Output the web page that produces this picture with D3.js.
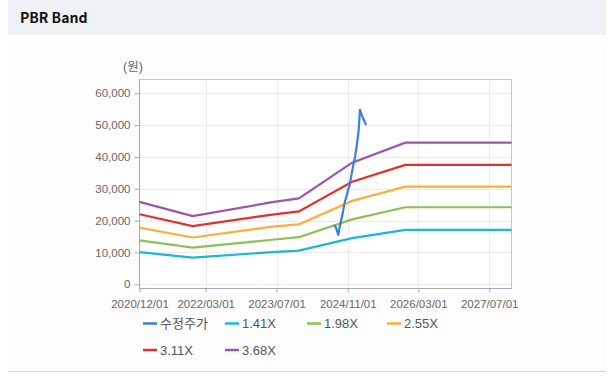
<!DOCTYPE html>
<html>
<head>
<meta charset="utf-8">
<script src="https://cdn.jsdelivr.net/npm/d3@7"></script>
<style>
  body { margin: 0; background: #fff; }
  svg { display: block; font-family: "Liberation Sans", "Noto Sans CJK KR", sans-serif; }
  .tick-label { font-size: 11.5px; fill: #666; }
  .legend-label { font-size: 13px; fill: #555; }
</style>
</head>
<body>
<div id="chart"></div>
<script>
const width = 608;
const height = 378;

// band dates (PBR x BPS), values in 원
const bandDates = ["2020-12-01", "2021-12-01", "2023-06-01", "2023-12-01", "2024-12-01", "2025-12-01", "2027-12-01"];
const band141 = [10100, 8400, 10100, 10600, 14500, 17100, 17100];
const band198 = [13800, 11500, 14000, 14800, 20400, 24200, 24200];
const band255 = [17800, 14700, 18100, 18800, 26200, 30700, 30700];
const band311 = [22000, 18300, 21900, 22900, 32200, 37500, 37500];
const band368 = [25900, 21400, 25800, 27000, 38200, 44500, 44500];

// adjusted price (수정주가)
const priceDates = ["2024-08-01", "2024-08-12", "2024-08-22", "2024-08-28", "2024-09-06", "2024-09-14", "2024-09-28",
  "2024-10-12", "2024-10-22", "2024-11-02", "2024-11-13", "2024-11-23", "2024-12-07", "2024-12-21",
  "2025-01-03", "2025-01-14", "2025-01-24", "2025-02-07", "2025-02-21", "2025-03-07"];
const priceValues = [18600, 17800, 16400, 15500, 17900, 19500, 22500,
  26000, 27400, 29500, 31000, 33500, 37000, 40000,
  44000, 48000, 54800, 53000, 51500, 50000];

const seriesNames = ["수정주가", "1.41X", "1.98X", "2.55X", "3.11X", "3.68X"];
const seriesColors = ["#3a7ee0", "#1ab8d2", "#8cc152", "#fbae3c", "#e3302b", "#9b55b0"];

const yTicks = [0, 10000, 20000, 30000, 40000, 50000, 60000];
const xTicks = ["2020-12-01", "2022-03-01", "2023-07-01", "2024-11-01", "2026-03-01", "2027-07-01"];

const parse = d3.utcParse("%Y-%m-%d");
const fmtDate = d3.utcFormat("%Y/%m/%d");

const plot = { left: 139.5, right: 511.5, top: 79.5, bottom: 288.5 };

const svg = d3.select("#chart")
    .append("svg")
    .attr("width", width)
    .attr("height", height);

// header band
svg.append("rect")
    .attr("x", 8).attr("y", 0)
    .attr("width", 598).attr("height", 35)
    .attr("fill", "#eef2f7");
svg.append("rect")
    .attr("x", 8).attr("y", 35)
    .attr("width", 598).attr("height", 336)
    .attr("fill", "#fdfdfd");
svg.append("line")
    .attr("x1", 8).attr("x2", 606)
    .attr("y1", 371.5).attr("y2", 371.5)
    .attr("stroke", "#d4d4d4");

svg.append("text")
    .attr("x", 20)
    .attr("y", 23)
    .style("font-family", "'Noto Sans CJK KR', sans-serif")
    .style("font-size", "14px")
    .style("font-weight", "bold")
    .attr("fill", "#111")
    .text("PBR Band");

const xScale = d3.scaleUtc()
    .domain([parse("2020-12-01"), parse("2027-12-01")])
    .range([plot.left, plot.right]);

const yScale = d3.scaleLinear()
    .domain([0, 60000])
    .range([284.3, 93.3]);

// plot background + grid
svg.append("rect")
    .attr("x", plot.left).attr("y", plot.top)
    .attr("width", plot.right - plot.left)
    .attr("height", plot.bottom - plot.top)
    .attr("fill", "#fff");

svg.append("g")
    .selectAll("line")
    .data(yTicks)
    .join("line")
    .attr("x1", plot.left).attr("x2", plot.right)
    .attr("y1", d => Math.round(yScale(d)) + 0.5)
    .attr("y2", d => Math.round(yScale(d)) + 0.5)
    .attr("stroke", "#ebebeb");

svg.append("g")
    .selectAll("line")
    .data(xTicks.slice(1))
    .join("line")
    .attr("x1", d => Math.round(xScale(parse(d))) + 0.5)
    .attr("x2", d => Math.round(xScale(parse(d))) + 0.5)
    .attr("y1", plot.top).attr("y2", plot.bottom)
    .attr("stroke", "#ebebeb");

// frame
svg.append("rect")
    .attr("x", plot.left).attr("y", plot.top)
    .attr("width", plot.right - plot.left)
    .attr("height", plot.bottom - plot.top)
    .attr("fill", "none")
    .attr("stroke", "#c8c8c8");

// y axis
const yAxis = svg.append("g")
    .attr("transform", `translate(${plot.left},0)`)
    .call(d3.axisLeft(yScale)
        .tickValues(yTicks)
        .tickSize(5)
        .tickPadding(4)
        .tickFormat(d3.format(",")));
yAxis.select(".domain").attr("stroke", "#aaa").attr("d", `M0,${plot.top}V${plot.bottom}`);
yAxis.selectAll(".tick line").attr("stroke", "#aaa");
yAxis.selectAll(".tick text").attr("class", "tick-label").attr("font-size", null).attr("font-family", null).attr("fill", null);

// x axis
const xAxis = svg.append("g")
    .attr("transform", `translate(0,${plot.bottom})`)
    .call(d3.axisBottom(xScale)
        .tickValues(xTicks.map(parse))
        .tickSize(4)
        .tickPadding(7)
        .tickFormat(fmtDate));
xAxis.select(".domain").attr("stroke", "#aaa").attr("d", `M${plot.left},0H${plot.right}`);
xAxis.selectAll(".tick line").attr("stroke", "#aaa");
xAxis.selectAll(".tick text").attr("class", "tick-label").attr("font-size", null).attr("font-family", null).attr("fill", null);
yAxis.attr("font-size", null).attr("font-family", null);
xAxis.attr("font-size", null).attr("font-family", null);

svg.append("text")
    .attr("x", 133)
    .attr("y", 71)
    .attr("text-anchor", "middle")
    .style("font-size", "12.5px")
    .attr("fill", "#666")
    .text("(원)");

// lines
const line = d3.line()
    .x(d => xScale(d.date))
    .y(d => yScale(d.value));

const bands = [band141, band198, band255, band311, band368];

bands.forEach((vals, i) => {
    const pts = bandDates.map((d, j) => ({ date: parse(d), value: vals[j] }));
    svg.append("path")
        .datum(pts)
        .attr("fill", "none")
        .attr("stroke", seriesColors[i + 1])
        .attr("stroke-width", 2.2)
        .attr("d", line);
});

const pricePts = priceDates.map((d, j) => ({ date: parse(d), value: priceValues[j] }));
svg.append("path")
    .datum(pricePts)
    .attr("fill", "none")
    .attr("stroke", seriesColors[0])
    .attr("stroke-width", 2.2)
    .attr("stroke-linejoin", "round")
    .attr("d", line);

// legend
const legendX = [143, 225, 307, 387];
const legend = svg.append("g");
seriesNames.forEach((name, i) => {
    const col = i < 4 ? i : i - 4;
    const row = i < 4 ? 0 : 1;
    const x = legendX[col];
    const y = 323.5 + row * 26.5;
    legend.append("line")
        .attr("x1", x).attr("x2", x + 14)
        .attr("y1", y).attr("y2", y)
        .attr("stroke", seriesColors[i])
        .attr("stroke-width", 2.5);
    legend.append("text")
        .attr("class", "legend-label")
        .attr("x", x + 17)
        .attr("y", y + 4.5)
        .text(name);
});
</script>
</body>
</html>
